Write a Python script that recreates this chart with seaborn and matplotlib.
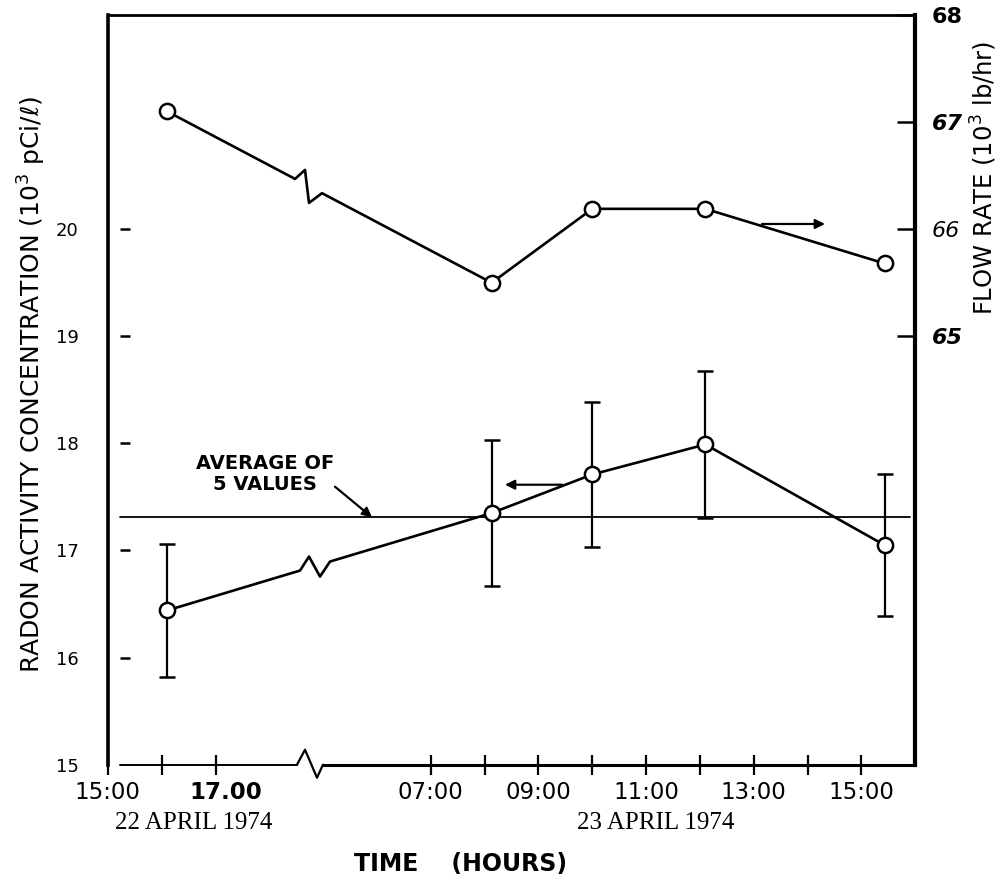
import numpy as np
import pandas as pd
import matplotlib
matplotlib.use("Agg")
import matplotlib.pyplot as plt
import matplotlib.transforms as mtrans
import seaborn as sns

# ---------------- data ----------------
days = [22, 23, 23, 23, 23]                     # April 1974
hours = [16.1, 8.13, 10.0, 12.1, 15.43]          # clock time (h)
radon = [16.44, 17.35, 17.71, 17.99, 17.05]      # 10^3 pCi/l
radon_err = [0.62, 0.68, 0.68, 0.69, 0.66]
flow = [67.10, 65.50, 66.19, 66.19, 65.68]       # 10^3 lb/hr
radon_avg = 17.31

x_tick_pos = [15, 16, 17, 21, 22, 23, 24, 25, 26, 27, 28, 29]
x_tick_labels = ["15:00", "", "17.00", "07:00", "", "09:00", "", "11:00", "", "13:00", "", "15:00"]
left_ticks = [15, 16, 17, 18, 19, 20]
right_ticks = [65, 66, 67, 68]

DAY_SHIFT = 14   # broken time axis: day 23 hour h is drawn at h + 14

pos = [h + (d - 22) * DAY_SHIFT for h, d in zip(hours, days)]

sns.set_theme(style="white")
plt.rcParams['font.family'] = ['DejaVu Sans']
plt.rcParams['text.color'] = 'black'
plt.rcParams['axes.labelcolor'] = 'black'

fig, ax = plt.subplots(figsize=(10.08, 8.81), dpi=100)
L, R, T, B = 0.107, 0.908, 0.983, 0.132
fig.subplots_adjust(left=L, right=R, top=T, bottom=B)
ax2 = ax.twinx()

XMIN, XMAX, YMIN, YMAX, FMIN, FMAX = 15, 30, 15, 22, 61, 68
ax.set_xlim(XMIN, XMAX)
ax.set_ylim(YMIN, YMAX)
ax2.set_ylim(FMIN, FMAX)

W_px = (R - L) * 1008
H_px = (T - B) * 881
dxp = (XMAX - XMIN) / W_px
dyp = (YMAX - YMIN) / H_px
dfp = (FMAX - FMIN) / H_px

def px2x(px):
    return XMIN + (px - L * 1008) * dxp

def broken_path(xs, ys, xb0, xb1, zig, ypx):
    """line through points with a zigzag break between xb0 and xb1"""
    y0 = np.interp(xb0, xs, ys)
    y1 = np.interp(xb1, xs, ys)
    px, py = [], []
    for x, y in zip(xs, ys):
        if x < xb0:
            px.append(x); py.append(y)
    px.append(xb0); py.append(y0)
    for ox, oy in zig:
        px.append(xb0 + ox * dxp); py.append(y0 - oy * ypx)
    px.append(xb1); py.append(y1)
    for x, y in zip(xs, ys):
        if x > xb1:
            px.append(x); py.append(y)
    return pd.DataFrame({"x": px, "y": py})

# ---- radon series (left axis) ----
rp = broken_path(pos, radon, px2x(300), px2x(330), [(9, -14), (20, 6)], dyp)
sns.lineplot(data=rp, x="x", y="y", ax=ax, sort=False, estimator=None,
             color="black", lw=1.9, zorder=3)
ax.errorbar(pos, radon, yerr=radon_err, fmt="none", ecolor="black",
            elinewidth=1.6, capsize=6, capthick=1.8, zorder=2)
ax.axhline(radon_avg, xmin=(px2x(120) - XMIN) / (XMAX - XMIN), xmax=0.993,
           color="black", lw=1.3, zorder=2)
sns.scatterplot(x=pos, y=radon, ax=ax, s=120, marker="o", facecolor="white",
                edgecolor="black", linewidth=1.8, zorder=5)

# ---- flow series (right axis) ----
fp = broken_path(pos, flow, px2x(295), px2x(322), [(10, -9), (14, 24)], dfp)
sns.lineplot(data=fp, x="x", y="y", ax=ax2, sort=False, estimator=None,
             color="black", lw=1.9, zorder=3)
sns.scatterplot(x=pos, y=flow, ax=ax2, s=120, marker="o", facecolor="white",
                edgecolor="black", linewidth=1.8, zorder=5)

# ---- broken bottom axis ----
xa0, xa1 = px2x(297), px2x(323)
ax.plot([px2x(120), xa0], [YMIN, YMIN], color="black", lw=1.4, clip_on=False)
zx = [xa0, xa0 + 8 * dxp, xa0 + 20 * dxp, xa1]
zy = [YMIN, YMIN + 15 * dyp, YMIN - 13 * dyp, YMIN]
ax.plot(zx, zy, color="black", lw=1.6, clip_on=False)
ax.plot([xa1, XMAX], [YMIN, YMIN], color="black", lw=2.2, clip_on=False)

# ---- spines ----
for s in ["bottom", "right"]:
    ax.spines[s].set_visible(False)
ax.spines["left"].set_linewidth(2.6)
ax.spines["top"].set_linewidth(2.0)
for s in ["bottom", "left", "top"]:
    ax2.spines[s].set_visible(False)
ax2.spines["right"].set_linewidth(3.0)
for a in (ax, ax2):
    for s in a.spines.values():
        s.set_color("black")

# ---- x ticks ----
ax.set_xticks(x_tick_pos)
ax.set_xticklabels(x_tick_labels)
ax.tick_params(axis="x", bottom=True, direction="inout", length=14, width=1.6,
               pad=5, labelsize=16.5, colors="black")
for lbl in ax.get_xticklabels():
    if lbl.get_text() == "17.00":
        lbl.set_fontweight("bold")
        lbl.set_transform(lbl.get_transform() +
                          mtrans.ScaledTranslation(0.1, 0, fig.dpi_scale_trans))

# ---- left y ticks (floating dashes) ----
ax.set_yticks(left_ticks)
ax.set_yticklabels([str(v) for v in left_ticks])
ax.tick_params(axis="y", left=True, length=0, pad=21, labelsize=13, colors="black")
ax.hlines(left_ticks[1:], 0.015, 0.028, transform=ax.get_yaxis_transform(),
          color="black", lw=1.8)

# ---- right y ticks ----
ax2.set_yticks(right_ticks)
ax2.set_yticklabels([str(v) for v in right_ticks])
ax2.tick_params(axis="y", right=True, direction="in", length=13, width=1.8,
                pad=12, labelsize=16, colors="black")
styles = {65: ("italic", "bold"), 66: ("italic", "normal"),
          67: ("italic", "bold"), 68: ("normal", "bold")}
for lbl, v in zip(ax2.get_yticklabels(), right_ticks):
    st, wt = styles[v]
    lbl.set_fontstyle(st)
    lbl.set_fontweight(wt)

ax.set_xlabel("")
ax.set_ylabel("")
ax2.set_ylabel("")

# ---- axis titles ----
fig.text(32 / 1008, 1 - 385 / 881, "RADON ACTIVITY CONCENTRATION (10$^3$ pCi/ℓ)",
         rotation=90, ha="center", va="center", fontsize=18)
fig.text(984 / 1008, 1 - 178 / 881, "FLOW RATE (10$^3$ lb/hr)",
         rotation=90, ha="center", va="center", fontsize=17.5)
fig.text(461 / 1008, 1 - 864 / 881, "TIME    (HOURS)", ha="center", va="center",
         fontsize=17, fontweight="bold")
fig.text(194 / 1008, 1 - 823 / 881, "22 APRIL 1974", ha="center", va="center",
         fontsize=18, family="Liberation Serif")
fig.text(656 / 1008, 1 - 823 / 881, "23 APRIL 1974", ha="center", va="center",
         fontsize=18, family="Liberation Serif")

# ---- annotations ----
ax.text(px2x(265), YMIN + (765 - 474) * dyp, "AVERAGE OF\n5 VALUES",
        ha="center", va="center", fontsize=14, fontweight="bold",
        linespacing=1.15)
ax.annotate("", xy=(px2x(372), radon_avg), xytext=(px2x(335), YMIN + (765 - 487) * dyp),
            arrowprops=dict(arrowstyle="-|>", color="black", lw=1.6,
                            mutation_scale=14, shrinkA=0, shrinkB=0))
ax.annotate("", xy=(px2x(505), YMIN + (765 - 485) * dyp),
            xytext=(px2x(562), YMIN + (765 - 485) * dyp),
            arrowprops=dict(arrowstyle="-|>", color="black", lw=1.6,
                            mutation_scale=14, shrinkA=0, shrinkB=0))
ax2.annotate("", xy=(px2x(825), FMAX - (224 - 15) * dfp),
             xytext=(px2x(762), FMAX - (224 - 15) * dfp),
             arrowprops=dict(arrowstyle="-|>", color="black", lw=1.6,
                             mutation_scale=14, shrinkA=0, shrinkB=0))

fig.savefig("out.png", dpi=100)
